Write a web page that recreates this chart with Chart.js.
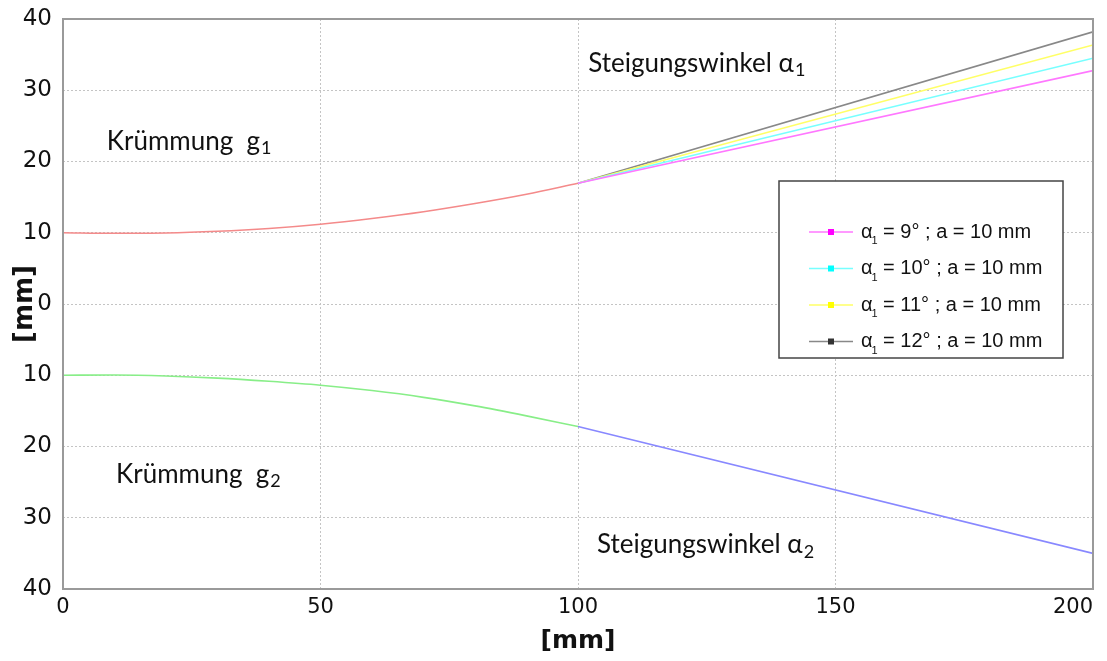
<!DOCTYPE html>
<html>
<head>
<meta charset="utf-8">
<script src="https://cdn.jsdelivr.net/npm/chart.js@4.4.1/dist/chart.umd.min.js"></script>
<style>
    html, body { margin: 0; padding: 0; background: #fff; }
    #wrap { width: 1107px; height: 661px; position: relative; }
</style>
</head>
<body>
<div id="wrap"><canvas id="curveChart" width="1107" height="661"></canvas></div>
<script>
// Curve section (0..100 mm)
const curveX = [0, 10, 20, 30, 40, 50, 60, 70, 80, 90, 100];
const curveG1 = [10, 9.93, 9.97, 10.2, 10.6, 11.2, 12.0, 12.95, 14.1, 15.4, 16.95];
const curveG2 = [-10, -9.97, -10.1, -10.4, -10.85, -11.4, -12.15, -13.1, -14.3, -15.7, -17.2];

// Straight section (100..200 mm)
const lineX = [100, 200];
const alpha9 = [16.95, 32.75];
const alpha10 = [16.95, 34.5];
const alpha11 = [16.95, 36.35];
const alpha12 = [16.95, 38.2];
const alphaLower = [-17.2, -35.0];

const xTicks = [0, 50, 100, 150, 200];
const yTicks = [-40, -30, -20, -10, 0, 10, 20, 30, 40];

const legendLabels = ['9°', '10°', '11°', '12°'];

function pts(xs, ys) {
    return xs.map((x, i) => ({ x: x, y: ys[i] }));
}

function makeLine(data, color, smooth) {
    return {
        data: data,
        borderColor: color,
        borderWidth: 1.6,
        pointRadius: 0,
        fill: false,
        cubicInterpolationMode: smooth ? 'monotone' : 'default',
        tension: 0
    };
}

const seriesColors = ['#ff77ff', '#77ffff', '#ffff66', '#888888'];
const markerColors = ['#ff00ff', '#00ffff', '#ffff00', '#333333'];

/**
 * Frame around the plot area
 */
const framePlugin = {
    id: 'frame',
    afterDraw(chart) {
        const a = chart.chartArea;
        const ctx = chart.ctx;
        ctx.save();
        ctx.strokeStyle = '#9a9a9a';
        ctx.lineWidth = 2;
        ctx.strokeRect(a.left, a.top, a.right - a.left, a.bottom - a.top);
        ctx.restore();
    }
};

/**
 * Text labels with subscripts inside the plot
 */
function drawSub(ctx, x, y, main, sub, font, subFont, dy) {
    ctx.font = font;
    ctx.fillText(main, x, y);
    const w = ctx.measureText(main).width;
    ctx.font = subFont;
    ctx.fillText(sub, x + w + 1, y + dy);
}

const notesPlugin = {
    id: 'notes',
    afterDraw(chart) {
        const ctx = chart.ctx;
        const xs = chart.scales.x;
        const ys = chart.scales.y;
        const big = '26px Lato';
        const small = '18px Lato';
        ctx.save();
        ctx.fillStyle = '#111';
        ctx.textBaseline = 'middle';
        drawSub(ctx, xs.getPixelForValue(8.5), ys.getPixelForValue(22.8), 'Krümmung  g', '1', big, small, 7);
        drawSub(ctx, xs.getPixelForValue(10.3), ys.getPixelForValue(-23.9), 'Krümmung  g', '2', big, small, 7);
        drawSub(ctx, xs.getPixelForValue(102), ys.getPixelForValue(33.8), 'Steigungswinkel α', '1', big, small, 7);
        drawSub(ctx, xs.getPixelForValue(103.7), ys.getPixelForValue(-33.8), 'Steigungswinkel α', '2', big, small, 7);
        ctx.restore();
    }
};

/**
 * Legend box inside the plot
 */
const legendBoxPlugin = {
    id: 'legendBox',
    afterDraw(chart) {
        const ctx = chart.ctx;
        const box = { left: 779, top: 181, right: 1063, bottom: 358 };
        ctx.save();
        ctx.fillStyle = '#fff';
        ctx.fillRect(box.left, box.top, box.right - box.left, box.bottom - box.top);
        ctx.strokeStyle = '#444';
        ctx.lineWidth = 1.5;
        ctx.strokeRect(box.left, box.top, box.right - box.left, box.bottom - box.top);
        ctx.textBaseline = 'middle';
        legendLabels.forEach((lab, i) => {
            const y = 232 + i * 36.5;
            ctx.strokeStyle = seriesColors[i];
            ctx.lineWidth = 1.5;
            ctx.beginPath();
            ctx.moveTo(809, y);
            ctx.lineTo(853, y);
            ctx.stroke();
            ctx.fillStyle = markerColors[i];
            ctx.fillRect(828, y - 3, 6, 6);
            ctx.fillStyle = '#111';
            ctx.font = '20px "Liberation Sans"';
            ctx.fillText('α', 861, y);
            let w = ctx.measureText('α').width;
            ctx.font = '11px "Liberation Sans"';
            ctx.fillText('1', 861 + w - 1, y + 9);
            ctx.font = '20px "Liberation Sans"';
            ctx.fillText(' = ' + lab + ' ; a = 10 mm', 861 + w + 5, y);
        });
        ctx.restore();
    }
};

document.addEventListener('DOMContentLoaded', function() {
    const ctx = document.getElementById('curveChart');
    new Chart(ctx, {
        type: 'line',
        data: {
            datasets: [
                makeLine(pts(lineX, alpha9), seriesColors[0], false),
                makeLine(pts(lineX, alpha10), seriesColors[1], false),
                makeLine(pts(lineX, alpha11), seriesColors[2], false),
                makeLine(pts(lineX, alpha12), seriesColors[3], false),
                makeLine(pts(lineX, alphaLower), '#8888ff', false),
                makeLine(pts(curveX, curveG1), '#f48a8a', true),
                makeLine(pts(curveX, curveG2), '#88ee88', true)
            ]
        },
        options: {
            responsive: false,
            animation: false,
            layout: { autoPadding: false, padding: { top: 19, right: 14, left: 0, bottom: 0 } },
            plugins: {
                legend: { display: false },
                tooltip: { enabled: false }
            },
            scales: {
                x: {
                    type: 'linear',
                    min: 0,
                    max: 200,
                    afterBuildTicks: function(scale) {
                        scale.ticks = xTicks.map(v => ({ value: v }));
                    },
                    afterFit: function(scale) {
                        scale.height = 72;
                        scale.paddingLeft = 0;
                        scale.paddingRight = 0;
                    },
                    ticks: {
                        font: { family: '"DejaVu Sans"', size: 21 },
                        color: '#111',
                        padding: 6,
                        maxRotation: 0,
                        // last label pulled inside the canvas, as in the original
                        callback: function(value) {
                            return value === 200 ? value + '\u2007\u2007\u2007' : String(value);
                        }
                    },
                    grid: { color: '#c4c4c4', drawTicks: false, lineWidth: 1 },
                    border: { display: false, dash: [2, 2] },
                    title: {
                        display: true,
                        text: '[mm]',
                        font: { family: '"DejaVu Sans"', size: 25, weight: 'bold' },
                        color: '#111',
                        padding: { top: 0, bottom: 5 }
                    }
                },
                y: {
                    min: -40,
                    max: 40,
                    afterBuildTicks: function(scale) {
                        scale.ticks = yTicks.map(v => ({ value: v }));
                    },
                    afterFit: function(scale) {
                        scale.width = 63;
                        scale.paddingTop = 0;
                        scale.paddingBottom = 0;
                    },
                    ticks: {
                        font: { family: '"DejaVu Sans"', size: 23 },
                        color: '#111',
                        padding: 11,
                        callback: function(value) { return Math.abs(value); }
                    },
                    grid: { color: '#c4c4c4', drawTicks: false, lineWidth: 1 },
                    border: { display: false, dash: [2, 2] },
                    title: {
                        display: true,
                        text: '[mm]',
                        font: { family: '"DejaVu Sans"', size: 26, weight: 'bold' },
                        color: '#111',
                        padding: { top: 10, bottom: 0 }
                    }
                }
            }
        },
        plugins: [framePlugin, notesPlugin, legendBoxPlugin]
    });
});
</script>
</body>
</html>
